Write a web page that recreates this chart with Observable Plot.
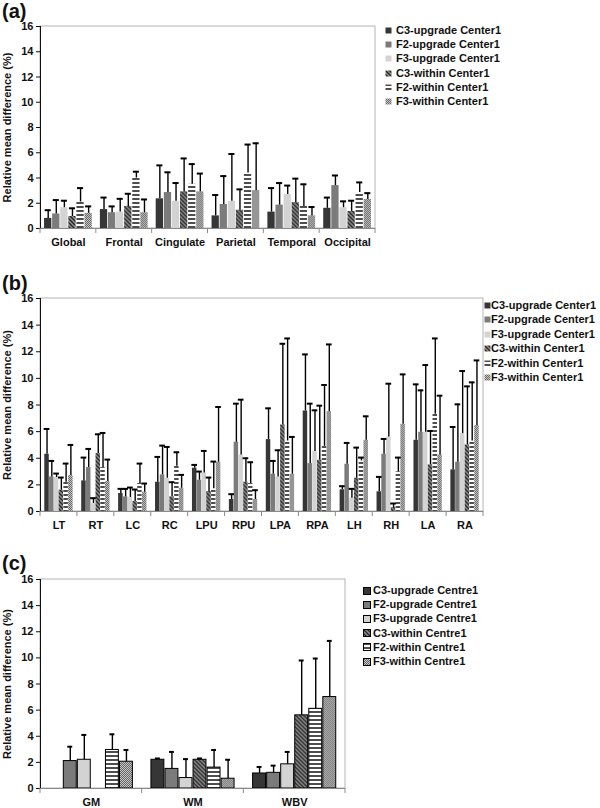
<!DOCTYPE html>
<html><head><meta charset="utf-8">
<script src="https://cdn.jsdelivr.net/npm/d3@7"></script>
<script src="https://cdn.jsdelivr.net/npm/@observablehq/plot@0.6"></script>
<style>
body{margin:0;background:#fff;}
#root{position:relative;width:600px;height:808px;overflow:hidden;font-family:"Liberation Sans",Arial,sans-serif;font-weight:bold;color:#111;}
.plabel{position:absolute;left:2px;font-size:20px;font-weight:bold;line-height:20px;}
.panel{position:absolute;left:0;}
.lrow{position:absolute;white-space:nowrap;font-size:11px;font-weight:bold;line-height:14px;height:14px;}
.lrow svg{position:absolute;left:0;}
.lrow span{position:absolute;top:0;}
g[aria-label="y-axis tick"]{stroke:#8a8a8a;}
g[aria-label="y-axis line"], g[aria-label="y-axis line"] *{stroke:#8a8a8a;}
</style>
</head><body>
<svg width="0" height="0" style="position:absolute">
<defs>
<pattern id="pC3w" patternUnits="userSpaceOnUse" width="4" height="4">
  <rect width="4" height="4" fill="#8e8e8e"/>
  <path d="M-1,-1L5,5M-1,3L1,5M3,-1L5,1" stroke="#262626" stroke-width="1.3"/>
</pattern>
<pattern id="pF2w" patternUnits="userSpaceOnUse" width="4" height="4">
  <rect width="4" height="4" fill="#ffffff"/>
  <rect width="4" height="2" fill="#4e4e4e"/>
</pattern>
<pattern id="pF3w" patternUnits="userSpaceOnUse" width="2" height="2">
  <rect width="2" height="2" fill="#c6c6c6"/>
  <rect width="1" height="1" fill="#666666"/>
  <rect x="1" y="1" width="1" height="1" fill="#666666"/>
</pattern>
</defs></svg>
<div id="root"></div>
<script>
// ---------- data ----------
const yTicks = [0, 2, 4, 6, 8, 10, 12, 14, 16];
const yLabel = "Relative mean difference (%)";
const seriesCenter = ["C3-upgrade Center1", "F2-upgrade Center1", "F3-upgrade Center1", "C3-within Center1", "F2-within Center1", "F3-within Center1"];
const seriesCentre = ["C3-upgrade Centre1", "F2-upgrade Centre1", "F3-upgrade Centre1", "C3-within Centre1", "F2-within Centre1", "F3-within Centre1"];
const fills = ["#363636", "#7b7b7b", "#d3d3d3", "url(#pC3w)", "url(#pF2w)", "url(#pF3w)"];

// panel (a)
const regionsA = ["Global", "Frontal", "Cingulate", "Parietal", "Temporal", "Occipital"];
const meansA = [
  [0.8, 1.5, 2.35, 1.0, 1.3, 1.6],    // C3-upgrade
  [1.15, 1.25, 2.85, 1.9, 1.85, 3.4], // F2-upgrade
  [1.65, 1.3, 2.15, 2.15, 2.7, 1.65], // F3-upgrade
  [0.95, 1.75, 2.9, 1.45, 2.05, 1.35],// C3-within
  [2.1, 4.0, 3.5, 4.4, 1.75, 2.85],   // F2-within
  [1.2, 1.25, 2.9, 3.0, 1.0, 2.3]     // F3-within
];
const errTopA = [
  [1.45, 2.45, 5.0, 2.65, 3.2, 2.45],
  [2.25, 1.75, 4.45, 4.15, 3.6, 4.2],
  [2.2, 2.35, 3.6, 5.9, 3.4, 2.15],
  [1.6, 2.75, 5.55, 3.1, 3.95, 2.2],
  [3.2, 4.5, 5.1, 6.65, 3.5, 3.65],
  [1.75, 2.3, 4.35, 6.75, 1.7, 2.8]
];

// panel (b)
const regionsB = ["LT", "RT", "LC", "RC", "LPU", "RPU", "LPA", "RPA", "LH", "RH", "LA", "RA"];
const meansB = [
  [4.3, 2.3, 1.35, 2.2, 3.25, 0.9, 5.4, 7.55, 1.63, 1.48, 5.35, 3.13],
  [2.6, 3.3, 1.1, 2.75, 2.35, 5.2, 2.8, 3.6, 3.55, 4.3, 5.95, 3.7],
  [2.55, 0.6, 1.05, 2.5, 2.9, 4.25, 2.6, 4.5, 1.0, 5.6, 5.95, 5.85],
  [1.6, 4.35, 0.75, 1.1, 1.5, 2.2, 6.5, 3.85, 2.5, 0.3, 3.5, 5.0],
  [2.2, 3.3, 2.1, 3.4, 1.7, 2.1, 5.3, 4.9, 3.8, 2.98, 7.3, 5.3],
  [2.7, 2.25, 1.45, 1.75, 3.7, 0.9, 2.8, 7.5, 5.35, 6.55, 4.25, 6.45]
];
const errTopB = [
  [6.2, 4.05, 1.7, 4.1, 3.5, 1.3, 7.75, 11.8, 1.9, 2.6, 9.55, 6.35],
  [3.8, 4.7, 1.7, 4.95, 3.0, 8.1, 3.8, 8.1, 5.15, 5.45, 9.1, 8.05],
  [2.85, 1.0, 1.8, 4.85, 4.55, 8.4, 4.6, 7.6, 1.7, 9.6, 11.0, 10.55],
  [2.55, 5.8, 1.65, 2.2, 2.55, 4.0, 12.6, 7.95, 4.8, 0.6, 6.05, 9.4],
  [3.6, 5.9, 3.6, 4.45, 3.75, 3.7, 13.0, 9.5, 4.05, 4.05, 13.0, 9.7],
  [5.0, 3.9, 2.1, 2.75, 7.85, 1.6, 5.6, 12.55, 7.15, 10.3, 8.7, 11.35]
];

// panel (c)
const regionsC = ["GM", "WM", "WBV"];
const meansC = [
  [0, 2.2, 1.15],
  [2.1, 1.5, 1.2],
  [2.2, 0.8, 1.85],
  [0, 2.2, 5.6],
  [2.95, 1.6, 6.1],
  [2.05, 0.75, 7.0]
];
const errTopC = [
  [0, 2.3, 1.65],
  [3.2, 2.8, 1.75],
  [4.1, 2.25, 2.8],
  [0, 2.3, 9.8],
  [4.15, 2.95, 9.95],
  [2.95, 2.2, 11.3]
];

// ---------- drawing ----------
const root = document.getElementById("root");

function drawPanel(cfg) {
  const rows = [];
  cfg.regions.forEach((r, i) => cfg.series.forEach((s, j) =>
    rows.push({region: r, series: s, value: cfg.means[j][i], err: cfg.errs[j][i]})));
  const hasErr = d => d.err > d.value;
  const svg = Plot.plot({
    width: cfg.width, height: cfg.height,
    marginLeft: 40, marginRight: cfg.marginRight, marginTop: 8, marginBottom: cfg.marginBottom,
    style: {fontFamily: '"Liberation Sans", Arial, sans-serif', fontSize: "11px", fontWeight: "bold", color: "#111", background: "transparent", overflow: "visible"},
    facet: {data: rows, x: "region"},
    fx: {domain: cfg.regions, paddingInner: 0, paddingOuter: 0, round: false, label: null, axis: "bottom", tickSize: 0, tickPadding: 10},
    x: {domain: cfg.series, paddingInner: cfg.padIn, paddingOuter: cfg.padOut, round: false, axis: null},
    y: {domain: [0, 16], ticks: yTicks, tickSize: 4, tickPadding: 3, line: true, label: yLabel, labelAnchor: "center", labelArrow: "none", labelOffset: 37},
    color: {domain: cfg.series, range: fills},
    marks: [
      Plot.barY(rows, {x: "series", y: "value", fill: "series", stroke: cfg.stroke, strokeWidth: 1}),
      Plot.ruleX(rows, {filter: hasErr, x: "series", y1: "value", y2: "err", stroke: "#000", strokeWidth: 1.4}),
      Plot.tickY(rows, {filter: hasErr, x: "series", y: "err", stroke: "#000", strokeWidth: 2, insetLeft: cfg.capInset, insetRight: cfg.capInset}),
      Plot.ruleY([0], {stroke: "#8a8a8a"})
    ]
  });
  // frame + category separator ticks
  const fx = svg.scale("fx"), y = svg.scale("y");
  const y0 = y.apply(0), y16 = y.apply(16);
  const xs = cfg.regions.map(r => fx.apply(r));
  const xEnd = fx.apply(cfg.regions[cfg.regions.length - 1]) + fx.bandwidth;
  xs.push(xEnd);
  const s = d3.select(svg);
  s.insert("rect", ":first-child")
    .attr("x", xs[0]).attr("y", y16).attr("width", xEnd - xs[0]).attr("height", y0 - y16)
    .attr("fill", "none").attr("stroke", "#b4b4b4").attr("stroke-width", 1);
  s.append("g").selectAll("line").data(xs).join("line")
    .attr("x1", d => d).attr("x2", d => d).attr("y1", y0).attr("y2", y0 + 5)
    .attr("stroke", "#8a8a8a").attr("stroke-width", 1);
  const wrap = document.createElement("div");
  wrap.className = "panel";
  wrap.style.top = cfg.top + "px";
  wrap.appendChild(svg);
  root.appendChild(wrap);
}

function drawLegend(cfg) {
  cfg.labels.forEach((lab, j) => {
    const row = document.createElement("div");
    row.className = "lrow";
    row.style.left = cfg.left + "px";
    row.style.top = (cfg.top + j * cfg.step - 7) + "px";
    const sz = cfg.size;
    row.innerHTML = `<svg width="${sz + 1}" height="${sz + 1}" style="top:${7 - sz / 2}px"><rect x="0.5" y="0.5" width="${sz}" height="${sz}" fill="${fills[j]}" ${cfg.border ? 'stroke="#000" stroke-width="1"' : ''}/></svg><span style="left:${cfg.textDx}px">${lab}</span>`;
    root.appendChild(row);
  });
}

function panelLabel(text, top) {
  const d = document.createElement("div");
  d.className = "plabel";
  d.style.top = top + "px";
  d.textContent = text;
  root.appendChild(d);
}

panelLabel("(a)", 1);
drawPanel({top: 18, width: 380, height: 240, marginRight: 5, marginBottom: 30,
  regions: regionsA, series: seriesCenter, means: meansA, errs: errTopA,
  padIn: 0.1, padOut: 0.5, capInset: 0.6, stroke: undefined});
drawLegend({left: 385, top: 29.5, step: 14.35, size: 6, border: false, textDx: 11, labels: seriesCenter});

panelLabel("(b)", 273);
drawPanel({top: 290, width: 484, height: 251, marginRight: 1, marginBottom: 30,
  regions: regionsB, series: seriesCenter, means: meansB, errs: errTopB,
  padIn: 0.06, padOut: 0.9, capInset: -0.6, stroke: undefined});
drawLegend({left: 484, top: 305, step: 14.45, size: 6, border: false, textDx: 7, labels: seriesCenter});

panelLabel("(c)", 553);
drawPanel({top: 571, width: 350, height: 237, marginRight: 5, marginBottom: 20,
  regions: regionsC, series: seriesCentre, means: meansC, errs: errTopC,
  padIn: 0.08, padOut: 0.66, capInset: 4, stroke: "#000"});
drawLegend({left: 363, top: 590, step: 14.2, size: 7, border: true, textDx: 10, labels: seriesCentre});
</script>
</body></html>
